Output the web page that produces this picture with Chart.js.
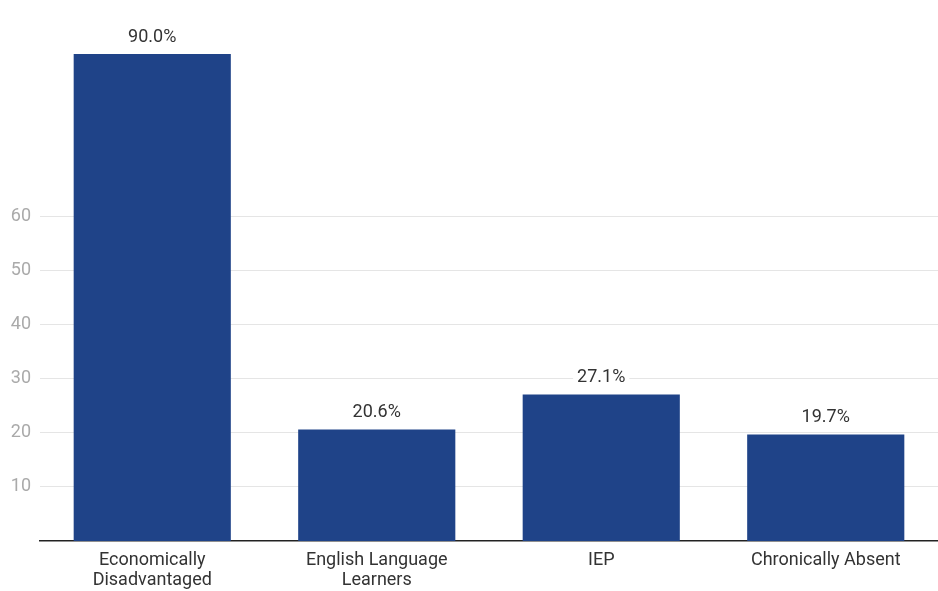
<!DOCTYPE html>
<html>
<head>
<meta charset="utf-8">
<script src="https://cdn.jsdelivr.net/npm/chart.js@4"></script>
<style>
  html, body { margin: 0; padding: 0; background: #fff; }
  #wrap { width: 938px; height: 591px; }
</style>
</head>
<body>
<div id="wrap"><canvas id="groupsChart"></canvas></div>
<script>
const categories = [
  ['Economically', 'Disadvantaged'],
  ['English Language', 'Learners'],
  'IEP',
  'Chronically Absent'
];
const shares = [90.0, 20.6, 27.1, 19.7];
const yTicks = [10, 20, 30, 40, 50, 60];

// value labels above each bar, with a white box that hides the gridline behind
const valueLabels = {
  id: 'valueLabels',
  afterDatasetsDraw(chart) {
    const ctx = chart.ctx;
    const meta = chart.getDatasetMeta(0);
    ctx.save();
    ctx.font = '18px Roboto';
    ctx.textAlign = 'center';
    ctx.textBaseline = 'middle';
    meta.data.forEach((bar, i) => {
      const txt = shares[i].toFixed(1) + '%';
      const w = ctx.measureText(txt).width;
      const y = bar.y - 17;
      ctx.fillStyle = '#fff';
      ctx.fillRect(bar.x - w / 2 - 4, y - 10, w + 8, 20);
      ctx.fillStyle = '#333';
      ctx.fillText(txt, bar.x, y);
    });
    ctx.restore();
  }
};

new Chart(document.getElementById('groupsChart'), {
  type: 'bar',
  data: {
    labels: categories,
    datasets: [{
      data: shares,
      backgroundColor: '#1f4388',
      borderWidth: 0,
      categoryPercentage: 1,
      barPercentage: 0.7
    }]
  },
  options: {
    responsive: true,
    maintainAspectRatio: false,
    animation: false,
    layout: { padding: { top: 20, left: 0, right: 0, bottom: 0 } },
    plugins: { legend: { display: false }, tooltip: { enabled: false } },
    scales: {
      x: {
        grid: { display: false },
        border: { display: true, color: '#222', width: 1.5 },
        afterFit(scale) { scale.height = 50; },
        ticks: {
          color: '#333',
          font: { family: 'Roboto', size: 18, lineHeight: 1.1 },
          padding: 2,
          maxRotation: 0,
          autoSkip: false
        }
      },
      y: {
        min: 0,
        max: 96.3,
        afterBuildTicks(scale) {
          scale.ticks = yTicks.map(v => ({ value: v }));
        },
        afterFit(scale) { scale.width = 40; },
        border: { display: false },
        grid: { color: '#e5e5e5', lineWidth: 1, drawTicks: false },
        ticks: {
          color: '#aaa',
          font: { family: 'Roboto', size: 18 },
          padding: 9
        }
      }
    }
  },
  plugins: [valueLabels]
});
</script>
</body>
</html>
